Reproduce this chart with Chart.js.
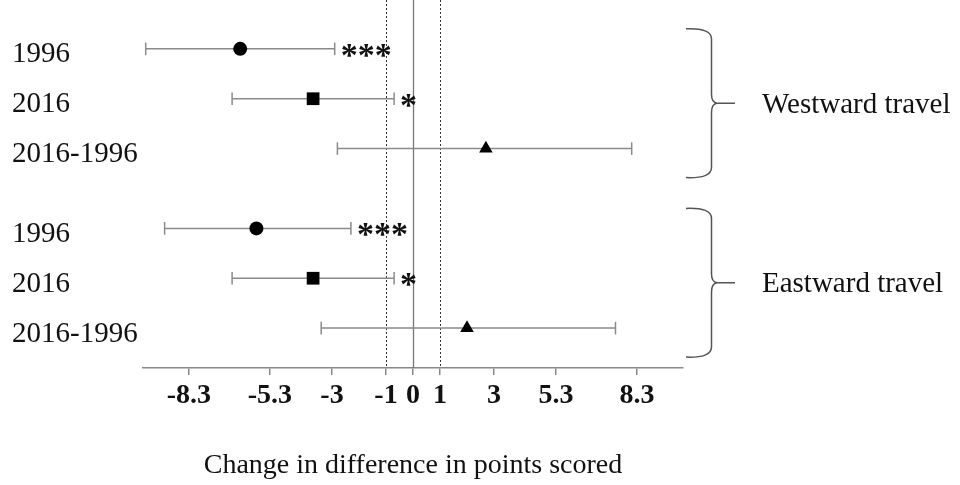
<!DOCTYPE html>
<html>
<head>
<meta charset="utf-8">
<script src="https://cdn.jsdelivr.net/npm/chart.js@4"></script>
<style>
  html, body { margin: 0; padding: 0; background: #fff; }
  #wrap { width: 960px; height: 485px; }
</style>
</head>
<body>
<div id="wrap"><canvas id="forestChart" width="960" height="485"></canvas></div>
<script>
// values
const groups = ['Westward travel', 'Eastward travel'];
const rowLabels = ['1996', '2016', '2016-1996'];

const westMean = [-6.4, -3.7, 2.7];
const westLow = [-9.9, -6.7, -2.8];
const westHigh = [-2.9, -0.7, 8.1];
const westStars = ['***', '*', ''];

const eastMean = [-5.8, -3.7, 2.0];
const eastLow = [-9.2, -6.7, -3.4];
const eastHigh = [-2.3, -0.7, 7.5];
const eastStars = ['***', '*', ''];

const xTicks = [-8.3, -5.3, -3, -1, 0, 1, 3, 5.3, 8.3];
const refLines = [-1, 0, 1];
const xTitle = 'Change in difference in points scored';

const serif = "'Liberation Serif', 'Times New Roman', serif";
const barGrey = '#8a8a8a';

// row positions on the y scale: three rows per group, a gap between groups
const groupGap = 3.6;
const rowPos = (g, i) => g * groupGap + i + 1;

const series = [
  { mean: westMean, low: westLow, high: westHigh, stars: westStars },
  { mean: eastMean, low: eastLow, high: eastHigh, stars: eastStars }
];

// marker datasets first so they are drawn on top
const datasets = [];
series.forEach((s, g) => {
  datasets.push({
    type: 'scatter',
    data: s.mean.map((m, i) => ({ x: m, y: rowPos(g, i) })),
    pointStyle: ['circle', 'rect', 'triangle'],
    pointRadius: [7, 9, 7.8],
    backgroundColor: '#000',
    borderColor: '#000',
    borderWidth: 0
  });
});
series.forEach((s, g) => {
  s.mean.forEach((m, i) => {
    datasets.push({
      type: 'line',
      data: [{ x: s.low[i], y: rowPos(g, i) }, { x: s.high[i], y: rowPos(g, i) }],
      borderColor: barGrey,
      borderWidth: 1.5,
      pointStyle: 'line',
      pointRotation: 90,
      pointRadius: 6.3,
      pointBorderColor: barGrey,
      pointBorderWidth: 1.5
    });
  });
});

const refLinePlugin = {
  id: 'refLines',
  beforeDatasetsDraw(chart) {
    const { ctx, chartArea, scales } = chart;
    ctx.save();
    refLines.forEach(v => {
      const x = Math.round(scales.x.getPixelForValue(v)) + 0.5;
      ctx.beginPath();
      if (v === 0) {
        ctx.strokeStyle = '#777';
        ctx.lineWidth = 1.3;
        ctx.setLineDash([]);
      } else {
        ctx.strokeStyle = '#333';
        ctx.lineWidth = 1;
        ctx.setLineDash([2, 2]);
      }
      ctx.moveTo(x, chartArea.top);
      ctx.lineTo(x, chartArea.bottom);
      ctx.stroke();
    });
    ctx.restore();
  }
};

const annotatePlugin = {
  id: 'annotate',
  afterDatasetsDraw(chart) {
    const { ctx, scales } = chart;
    const xs = scales.x, ys = scales.y;
    ctx.save();

    // row labels on the left
    ctx.fillStyle = '#111';
    ctx.font = '29px ' + serif;
    ctx.textAlign = 'left';
    ctx.textBaseline = 'middle';
    series.forEach((s, g) => {
      rowLabels.forEach((lab, i) => {
        ctx.fillText(lab, 12, ys.getPixelForValue(rowPos(g, i)) + 6);
      });
    });

    // significance stars
    ctx.font = 'bold 34px ' + serif;
    ctx.textBaseline = 'alphabetic';
    series.forEach((s, g) => {
      s.stars.forEach((st, i) => {
        if (!st) return;
        const x = xs.getPixelForValue(s.high[i]) + 6;
        const y = ys.getPixelForValue(rowPos(g, i)) + 17;
        ctx.fillText(st, x, y);
      });
    });

    // group braces and names
    const xV = 711.5, xL = 686, tipX = 717, endX = 735;
    ctx.strokeStyle = '#555';
    ctx.lineWidth = 1.5;
    groups.forEach((name, g) => {
      const top = ys.getPixelForValue(rowPos(g, 0)) - 20;
      const bottom = ys.getPixelForValue(rowPos(g, 2)) + 29;
      const mid = (top + bottom) / 2;
      ctx.beginPath();
      ctx.moveTo(xL, top);
      ctx.quadraticCurveTo(xV, top - 1, xV, top + 10);
      ctx.lineTo(xV, mid - 9);
      ctx.quadraticCurveTo(xV, mid - 1, tipX, mid);
      ctx.quadraticCurveTo(xV, mid + 1, xV, mid + 9);
      ctx.lineTo(xV, bottom - 10);
      ctx.quadraticCurveTo(xV, bottom + 1, xL, bottom);
      ctx.moveTo(tipX, mid);
      ctx.lineTo(endX, mid);
      ctx.stroke();

      ctx.fillStyle = '#111';
      ctx.font = '29px ' + serif;
      ctx.textBaseline = 'middle';
      ctx.fillText(name, 762, mid + 2);
    });
    ctx.restore();
  }
};

new Chart(document.getElementById('forestChart'), {
  type: 'scatter',
  data: { datasets: datasets },
  options: {
    responsive: false,
    animation: false,
    events: [],
    layout: { autoPadding: false, padding: { left: 143, right: 277, top: 0, bottom: 0 } },
    plugins: { legend: { display: false }, tooltip: { enabled: false } },
    scales: {
      x: {
        type: 'linear',
        min: -10,
        max: 10,
        afterBuildTicks: scale => { scale.ticks = xTicks.map(v => ({ value: v })); },
        afterFit: scale => { scale.height = 117; },
        ticks: {
          callback: v => String(v),
          color: '#111',
          padding: 4,
          maxRotation: 0,
          autoSkip: false,
          font: { family: serif, size: 28, weight: 'bold' }
        },
        grid: { drawOnChartArea: false, drawTicks: true, tickLength: 7, color: '#888', lineWidth: 1.5 },
        border: { display: true, color: '#888', width: 1.5 },
        title: {
          display: true,
          text: xTitle,
          color: '#111',
          padding: { top: 0, bottom: 3 },
          font: { family: serif, size: 28 }
        }
      },
      y: {
        type: 'linear',
        display: false,
        reverse: true,
        min: 0.02,
        max: 7.4
      }
    }
  },
  plugins: [refLinePlugin, annotatePlugin]
});
</script>
</body>
</html>
